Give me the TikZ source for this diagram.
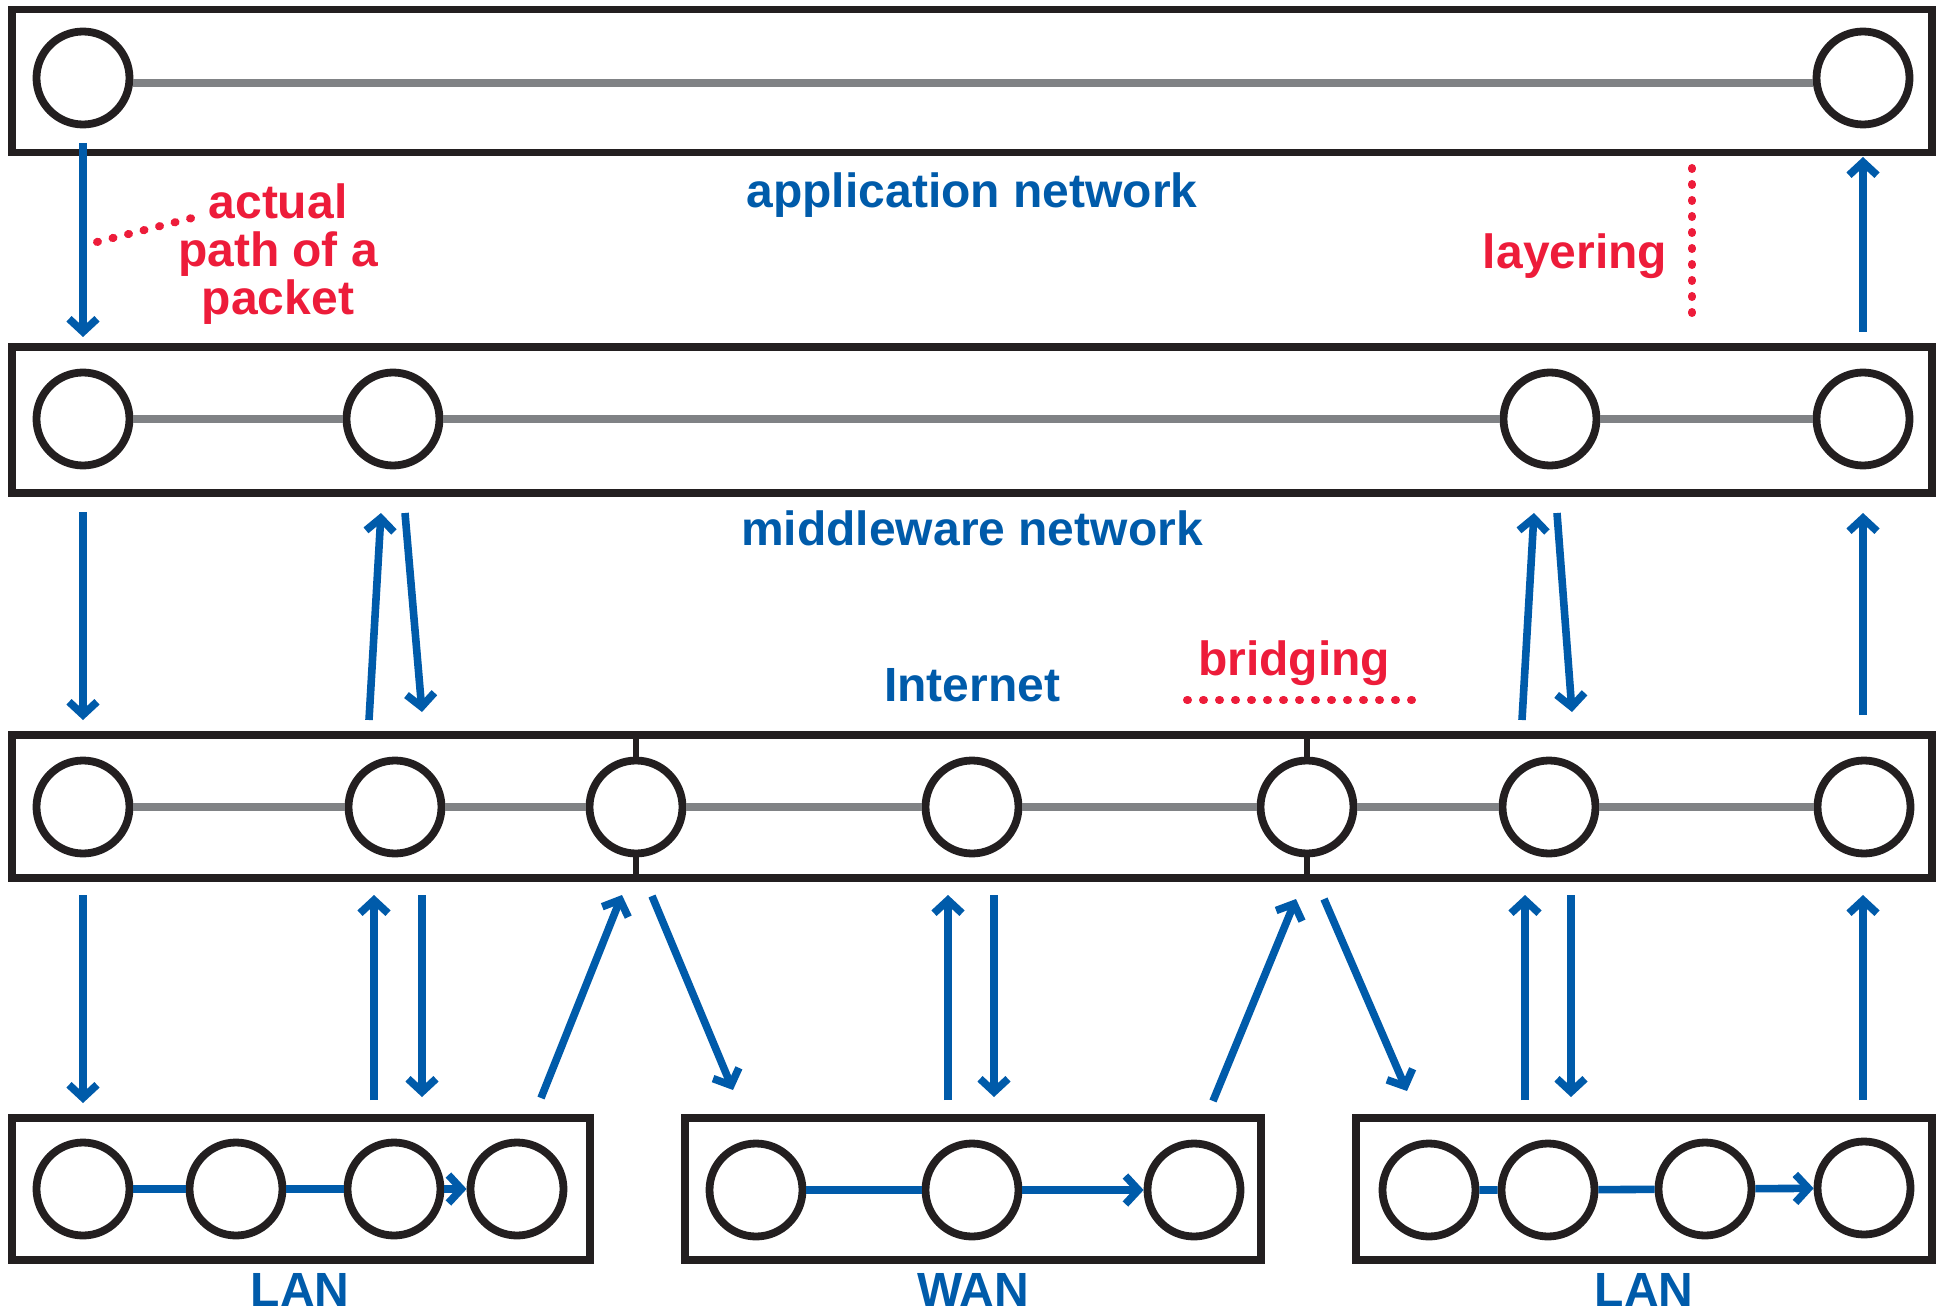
\documentclass[tikz,border=0pt]{standalone}
\usepackage{fontspec}
\setmainfont{Liberation Sans}
\usetikzlibrary{arrows.meta}
\definecolor{nblue}{RGB}{0,91,170}
\definecolor{nred}{RGB}{237,28,58}
\definecolor{ngray}{RGB}{128,130,133}
\definecolor{nblack}{RGB}{35,31,32}
\tikzset{
  layerbox/.style={draw=nblack, line width=3.8pt, rectangle, inner sep=0pt, outer sep=0pt},
  nd/.style={circle, draw=nblack, fill=white, line width=3.9pt, minimum size=46.5pt, inner sep=0pt},
  gline/.style={draw=ngray, line width=3.6pt},
  bline/.style={draw=nblue, line width=3.8pt},
  barrow/.style={bline, -{Straight Barb[length=6.5pt,width=14pt]}},
  tickline/.style={draw=nblack, line width=2.8pt},
  reddots/.style={draw=nred, line width=4pt, line cap=round, dash pattern=on 0.5pt off 7.5pt},
  bluetxt/.style={text=nblue, font=\bfseries\fontsize{24}{24}\selectfont, inner sep=0pt, anchor=base},
  redtxt/.style={text=nred, font=\bfseries\fontsize{24}{24}\selectfont, inner sep=0pt, anchor=base, align=center},
}
\begin{document}
\begin{tikzpicture}[x=0.5pt, y=-0.5pt]
\useasboundingbox (0,0) rectangle (1944,1316);
% layer boxes
\node[layerbox, minimum width=960pt, minimum height=71.5pt] (appbox) at (972,81) {};
\node[layerbox, minimum width=960pt, minimum height=73pt] (midbox) at (972,420) {};
\node[layerbox, minimum width=960pt, minimum height=71.5pt] (netbox) at (972,806.5) {};
\node[layerbox, minimum width=289pt, minimum height=71pt] (lanAbox) at (301,1189) {};
\node[layerbox, minimum width=288pt, minimum height=71pt] (wanbox) at (973,1189) {};
\node[layerbox, minimum width=288pt, minimum height=71pt] (lanBbox) at (1644,1189) {};
% application nodes
\node[nd] (a1) at (83,78) {};
\node[nd] (a2) at (1863,78) {};
\draw[gline] ([yshift=-2.5pt]a1.east) -- ([yshift=-2.5pt]a2.west);
% middleware nodes
\node[nd] (m1) at (83,419) {};
\node[nd] (m2) at (393,419) {};
\node[nd] (m3) at (1550,419) {};
\node[nd] (m4) at (1863,419) {};
\draw[gline] (m1) -- (m2) (m2) -- (m3) (m3) -- (m4);
% internet nodes
\node[nd] (i1) at (83,807) {};
\node[nd] (i2) at (395,807) {};
\node[nd] (i3) at (636,807) {};
\node[nd] (i4) at (972,807) {};
\node[nd] (i5) at (1307,807) {};
\node[nd] (i6) at (1549,807) {};
\node[nd] (i7) at (1864,807) {};
\draw[gline] (i1) -- (i2) (i2) -- (i3) (i3) -- (i4) (i4) -- (i5) (i5) -- (i6) (i6) -- (i7);
\draw[tickline] (i3.north) -- (i3.north |- netbox.north);
\draw[tickline] (i3.south) -- (i3.south |- netbox.south);
\draw[tickline] (i5.north) -- (i5.north |- netbox.north);
\draw[tickline] (i5.south) -- (i5.south |- netbox.south);
% bottom nodes
\node[nd] (la1) at (83,1189) {};
\node[nd] (la2) at (236,1189) {};
\node[nd] (la3) at (394,1189) {};
\node[nd] (la4) at (517,1189) {};
\node[nd] (w1) at (756,1190) {};
\node[nd] (w2) at (972,1190) {};
\node[nd] (w3) at (1194,1190) {};
\node[nd] (lb1) at (1429,1190) {};
\node[nd] (lb2) at (1548,1190) {};
\node[nd] (lb3) at (1705,1189) {};
\node[nd] (lb4) at (1864,1188) {};
\draw[bline] (la1) -- (la2) (la2) -- (la3);
\draw[barrow] (la3) -- (la4);
\draw[bline] (w1) -- (w2);
\draw[barrow] (w2) -- (w3);
\draw[bline] (lb1) -- (lb2) (lb2) -- (lb3);
\draw[barrow] (lb3) -- (lb4);
% arrow end points
\foreach \n/\x/\y in {
  p1s/83/143, p1e/83/337, p2s/1863/332, p2e/1863/157,
  q1s/83/512, q1e/83/720, q2s/369/720, q2e/381/513, q3s/405/513, q3e/422/712,
  q4s/1522/720, q4e/1534/513, q5s/1557/513, q5e/1572/712, q6s/1863/715, q6e/1863/513,
  r1s/83/895, r1e/83/1103, r2s/374/1100, r2e/374/895, r3s/422/895, r3e/422/1097,
  r4s/541/1098, r4e/622/895, r5s/652/896, r5e/733/1090, r6s/948/1100, r6e/948/895,
  r7s/994/895, r7e/994/1097, r8s/1213/1101, r8e/1296/899, r9s/1324/899, r9e/1407/1091,
  r10s/1525/1100, r10e/1525/895, r11s/1571/895, r11e/1571/1097, r12s/1863/1100, r12e/1863/895}
  {\coordinate (\n) at (\x,\y);}
\foreach \a in {p1,p2,q1,q2,q3,q4,q5,q6,r1,r2,r3,r4,r5,r6,r7,r8,r9,r10,r11,r12}
  {\draw[barrow] (\a s) -- (\a e);}
% labels
\node[bluetxt] (tapp) at (972,208) {application network};
\node[bluetxt] (tmid) at (972,545) {middleware network};
\node[bluetxt] (tnet) at (972,701) {Internet};
\node[bluetxt] (tlan1) at (300,1306) {LAN};
\node[bluetxt] (twan) at (973,1306) {WAN};
\node[bluetxt] (tlan2) at (1644,1306) {LAN};
\node[redtxt, anchor=north] (tpath) at (278,183) {actual\\path of a\\packet};
\node[redtxt] (tbridge) at (1294,675) {bridging};
\node[redtxt] (tlayer) at (1575,269) {layering};
% dotted markers
\coordinate (dA) at (97,242);
\coordinate (dB) at (196,217);
\draw[reddots] (dA) -- (dB);
\coordinate (dC) at (1187,700);
\coordinate (dD) at (1412,700);
\draw[reddots] (dC) -- (dD);
\coordinate (dE) at (1692,168);
\coordinate (dF) at (1692,328);
\draw[reddots] (dE) -- (dF);
\end{tikzpicture}
\end{document}
